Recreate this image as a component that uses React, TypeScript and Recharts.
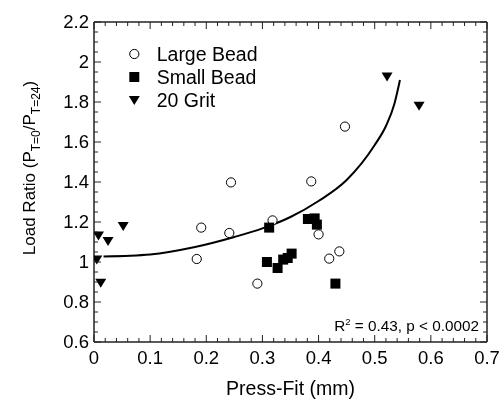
import { ComposedChart, Scatter, Line, XAxis, YAxis } from "recharts";

const X_MAJOR = [0, 0.1, 0.2, 0.3, 0.4, 0.5, 0.6, 0.7];
const Y_MAJOR = [0.6, 0.8, 1, 1.2, 1.4, 1.6, 1.8, 2, 2.2];
const X_MINOR_STEPS = 5;
const Y_MINOR_STEPS = 4;

const largeBead = [
  { x: 0.183, y: 1.015 },
  { x: 0.191, y: 1.172 },
  { x: 0.241, y: 1.145 },
  { x: 0.244, y: 1.398 },
  { x: 0.291, y: 0.892 },
  { x: 0.318, y: 1.208 },
  { x: 0.387, y: 1.403 },
  { x: 0.4, y: 1.138 },
  { x: 0.419, y: 1.017 },
  { x: 0.437, y: 1.053 },
  { x: 0.447, y: 1.677 },
];

const smallBead = [
  { x: 0.308, y: 1.0 },
  { x: 0.312, y: 1.172 },
  { x: 0.327, y: 0.97 },
  { x: 0.337, y: 1.012 },
  { x: 0.345, y: 1.02 },
  { x: 0.352, y: 1.042 },
  { x: 0.381, y: 1.215 },
  { x: 0.393, y: 1.218 },
  { x: 0.397, y: 1.187 },
  { x: 0.43, y: 0.892 },
];

const grit20 = [
  { x: 0.005, y: 1.012 },
  { x: 0.008, y: 1.132 },
  { x: 0.012, y: 0.896 },
  { x: 0.025, y: 1.105 },
  { x: 0.052, y: 1.18 },
  { x: 0.522, y: 1.927 },
  { x: 0.579, y: 1.781 },
];

// fitted curve
const fitCurve = [
  { x: 0.017, y: 1.028 },
  { x: 0.1, y: 1.038 },
  { x: 0.18, y: 1.075 },
  { x: 0.25, y: 1.125 },
  { x: 0.3, y: 1.168 },
  { x: 0.35, y: 1.225 },
  { x: 0.4, y: 1.305 },
  { x: 0.45, y: 1.41 },
  { x: 0.5, y: 1.585 },
  { x: 0.52, y: 1.68 },
  { x: 0.535, y: 1.79 },
  { x: 0.545, y: 1.91 },
];

const FONT = "'Liberation Sans', Arial, sans-serif";
const AXIS = "#222";

const withMinor = (major: number[], steps: number) => {
  const out: number[] = [];
  for (let i = 0; i < major.length - 1; i++) {
    const d = (major[i + 1] - major[i]) / steps;
    for (let k = 0; k < steps; k++) out.push(Number((major[i] + d * k).toFixed(4)));
  }
  out.push(major[major.length - 1]);
  return out;
};

const xTicks = withMinor(X_MAJOR, X_MINOR_STEPS);
const yTicks = withMinor(Y_MAJOR, Y_MINOR_STEPS);

const isMajor = (v: number, list: number[]) => list.some((m) => Math.abs(m - v) < 1e-6);
const fmt = (v: number) => String(Number(v.toFixed(1)));

const BottomTick = ({ x, y, payload }: any) => {
  const major = isMajor(payload.value, X_MAJOR);
  return (
    <g>
      <line x1={x} x2={x} y1={y} y2={y - (major ? 7 : 4)} stroke={AXIS} />
      {major && (
        <text x={x} y={y + 22} textAnchor="middle" fontSize={18.5} fontFamily={FONT} fill="#000">
          {fmt(payload.value)}
        </text>
      )}
    </g>
  );
};

const TopTick = ({ x, y, payload }: any) => {
  const major = isMajor(payload.value, X_MAJOR);
  return <line x1={x} x2={x} y1={y} y2={y + (major ? 7 : 4)} stroke={AXIS} />;
};

const LeftTick = ({ x, y, payload }: any) => {
  const major = isMajor(payload.value, Y_MAJOR);
  return (
    <g>
      <line x1={x} x2={x + (major ? 7 : 4)} y1={y} y2={y} stroke={AXIS} />
      {major && (
        <text x={x - 5} y={y + 6} textAnchor="end" fontSize={18.5} fontFamily={FONT} fill="#000">
          {fmt(payload.value)}
        </text>
      )}
    </g>
  );
};

const RightTick = ({ x, y, payload }: any) => {
  const major = isMajor(payload.value, Y_MAJOR);
  return <line x1={x} x2={x - (major ? 7 : 4)} y1={y} y2={y} stroke={AXIS} />;
};

const Circle = ({ cx, cy }: any) => (
  <circle cx={cx} cy={cy} r={4.6} fill="#fff" stroke="#000" strokeWidth={1} />
);
const Square = ({ cx, cy }: any) => <rect x={cx - 5} y={cy - 5} width={10} height={10} fill="#000" />;
const Triangle = ({ cx, cy }: any) => (
  <path d={`M${cx - 5.5},${cy - 4} L${cx + 5.5},${cy - 4} L${cx},${cy + 5} Z`} fill="#000" />
);
const Nothing = () => <g />;

const legendRows = [
  { label: "Large Bead", Shape: Circle },
  { label: "Small Bead", Shape: Square },
  { label: "20 Grit", Shape: Triangle },
];

export default function App() {
  return (
    <div style={{ position: "fixed", top: 0, left: 0 }}>
      <ComposedChart
        width={500}
        height={401}
        margin={{ top: 21, right: 12, bottom: 1, left: 0 }}
        style={{ fontFamily: FONT }}
      >
        <XAxis
          dataKey="x"
          type="number"
          domain={[0, 0.7]}
          ticks={xTicks}
          interval={0}
          tickSize={0}
          tickMargin={0}
          tick={<BottomTick />}
          height={58}
          stroke={AXIS}
          strokeWidth={1.5}
          allowDataOverflow
        />
        <XAxis
          xAxisId="top"
          orientation="top"
          dataKey="x"
          type="number"
          domain={[0, 0.7]}
          ticks={xTicks}
          interval={0}
          tickSize={0}
          tickMargin={0}
          tick={<TopTick />}
          height={1}
          stroke={AXIS}
          strokeWidth={1.5}
          allowDataOverflow
        />
        <YAxis
          type="number"
          domain={[0.6, 2.2]}
          ticks={yTicks}
          interval={0}
          tickSize={0}
          tickMargin={0}
          tick={<LeftTick />}
          width={94}
          stroke={AXIS}
          strokeWidth={1.5}
          allowDataOverflow
        />
        <YAxis
          yAxisId="right"
          orientation="right"
          type="number"
          domain={[0.6, 2.2]}
          ticks={yTicks}
          interval={0}
          tickSize={0}
          tickMargin={0}
          tick={<RightTick />}
          width={1}
          stroke={AXIS}
          strokeWidth={1.5}
          allowDataOverflow
        />
        {/* invisible series so the mirrored top/right axes get drawn */}
        <Scatter
          data={fitCurve}
          dataKey="y"
          xAxisId="top"
          yAxisId="right"
          shape={<Nothing />}
          isAnimationActive={false}
        />
        <Line
          data={fitCurve}
          dataKey="y"
          type="monotone"
          stroke="#000"
          strokeWidth={2}
          dot={false}
          isAnimationActive={false}
        />
        <Scatter data={largeBead} dataKey="y" shape={<Circle />} isAnimationActive={false} />
        <Scatter data={smallBead} dataKey="y" shape={<Square />} isAnimationActive={false} />
        <Scatter data={grit20} dataKey="y" shape={<Triangle />} isAnimationActive={false} />

        <g>
          {legendRows.map(({ label, Shape }, i) => (
            <g key={label}>
              <Shape cx={134.3} cy={54 + i * 23} />
              <text x={156.7} y={54 + i * 23 + 7} fontSize={19.5} fontFamily={FONT} fill="#000">
                {label}
              </text>
            </g>
          ))}
        </g>

        <text
          transform="translate(35,168) rotate(-90)"
          textAnchor="middle"
          fontSize={17}
          fontFamily={FONT}
          fill="#000"
        >
          Load Ratio (P
          <tspan fontSize={12} dy={5}>T=0</tspan>
          <tspan dy={-5}>/P</tspan>
          <tspan fontSize={12} dy={5}>T=24</tspan>
          <tspan dy={-5}>)</tspan>
        </text>

        <text x={290.5} y={395} textAnchor="middle" fontSize={19.5} fontFamily={FONT} fill="#000">
          Press-Fit (mm)
        </text>

        <text x={479} y={330.7} textAnchor="end" fontSize={15.3} fontFamily={FONT} fill="#000">
          R<tspan fontSize={9.5} dy={-6}>2</tspan>
          <tspan dy={6}> = 0.43, p &lt; 0.0002</tspan>
        </text>
      </ComposedChart>
    </div>
  );
}
